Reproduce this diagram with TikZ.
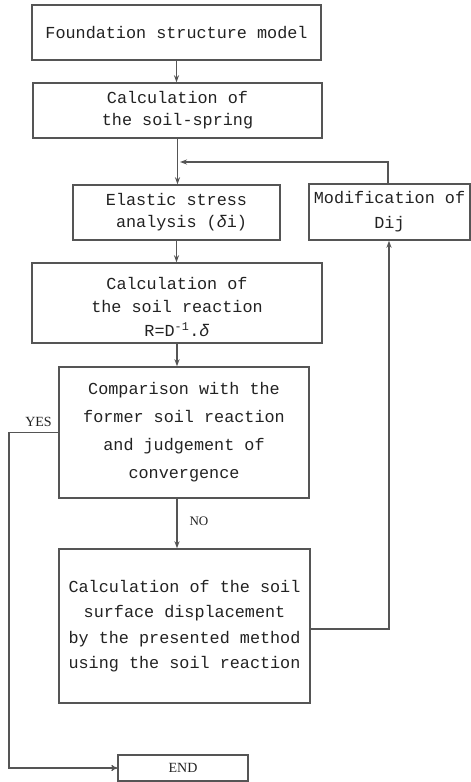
\documentclass[tikz,border=0pt]{standalone}
\usepackage{fontspec}
\setmainfont{Liberation Serif}
\setmonofont{Liberation Mono}
\usetikzlibrary{arrows.meta}
\definecolor{linecol}{HTML}{555555}
\definecolor{textcol}{HTML}{222222}
\begin{document}
\begin{tikzpicture}[x=1pt,y=-1pt,
  box/.style={draw=linecol, line width=1.4pt, text=textcol, font=\fontsize{16.8}{22}\ttfamily, align=center, inner sep=0pt, anchor=center},
  arr/.style={draw=linecol, line width=1.4pt, -{Stealth[length=7pt,width=5pt]}},
  lab/.style={text=textcol, font=\fontsize{14}{16}\selectfont, inner sep=0pt}]
\useasboundingbox (0,0) rectangle (471,782);
\fill[white] (0,0) rectangle (471,782);
% boxes
\node[box, minimum width=289pt, minimum height=55pt] (b1) at (176.5,32.5) {Foundation structure model};
\node[box, minimum width=289pt, minimum height=55pt] (b2) at (177.5,110.5) {Calculation of\\the soil-spring};
\node[box, minimum width=207pt, minimum height=55pt] (b3) at (176.5,212.5) {Elastic stress\\\hphantom{x}analysis ({\itshape δ}i)};
\node[box, minimum width=161pt, minimum height=56pt, font=\fontsize{16.8}{25}\ttfamily] (mod) at (389.5,212) {Modification of\\Dij};
\node[box, minimum width=290pt, minimum height=80pt, font=\fontsize{16.8}{23.5}\ttfamily] (b4) at (177,303) {\rule{0pt}{20pt}Calculation of\\the soil reaction\\R=D\textsuperscript{-1}.{\itshape δ}};
\node[box, minimum width=250pt, minimum height=131pt, font=\fontsize{16.8}{28}\ttfamily] (b5) at (184,432.5) {Comparison with the\\former soil reaction\\and judgement of\\convergence};
\node[box, minimum width=251pt, minimum height=154pt, font=\fontsize{16.8}{25.5}\ttfamily] (b6) at (184.5,626) {Calculation of the soil\\surface displacement\\by the presented method\\using the soil reaction};
\node[box, minimum width=130pt, minimum height=26pt, font=\fontsize{14}{16}\selectfont] (end) at (183,768) {END};
% labels
\node[lab] (yes) at (38.5,422) {YES};
\node[lab, font=\fontsize{13}{15}\selectfont] (no) at (199,521) {NO};
% connectors
\coordinate (fb) at (180,162);
\coordinate (yc) at (9,0);
\draw[arr] (b1.south) -- (b1.south |- b2.north);
\draw[arr] (b2.south) -- (b2.south |- b3.north);
\draw[arr] ([xshift=-1.5pt]mod.north) |- (fb);
\draw[arr] (b3.south) -- (b3.south |- b4.north);
\draw[arr] (b4.south) -- (b4.south |- b5.north);
\draw[arr] (b5.south -| b4.south) -- (b6.north -| b4.south);
\draw[arr] ([yshift=-3pt]b6.east) -| ([xshift=-0.5pt]mod.south);
\draw[arr, -{To[length=6pt,width=6pt]}] (b5.west) -- (b5.west -| yc) |- (end.west);
\end{tikzpicture}
\end{document}
